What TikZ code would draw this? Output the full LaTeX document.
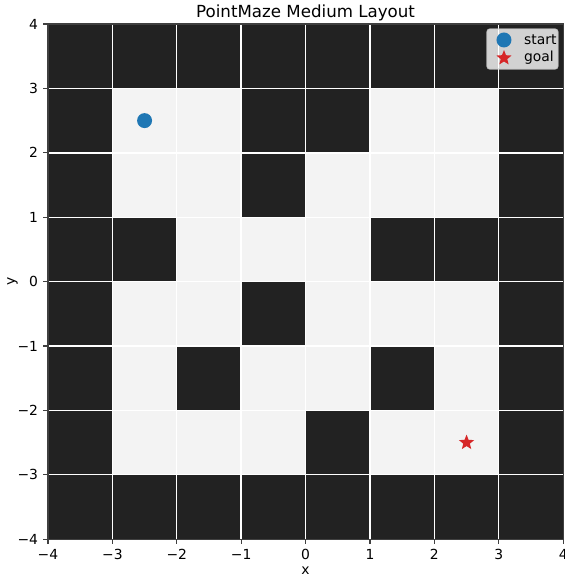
\documentclass[tikz,border=0pt]{standalone}
\usepackage{fontspec}
\setmainfont{DejaVu Sans}
\usetikzlibrary{shapes.geometric}
\definecolor{wallgray}{HTML}{222222}
\definecolor{freegray}{HTML}{F3F3F3}
\definecolor{startblue}{HTML}{1F77B4}
\definecolor{goalred}{HTML}{D62728}

\begin{document}
\begin{tikzpicture}[
    x=46.4pt, y=46.4pt,
    every node/.style={font=\fontsize{10}{12}\selectfont},
    wall/.style={fill=wallgray},
    free/.style={fill=freegray},
    gridline/.style={white, line width=1pt},
    spine/.style={black!75, line width=0.8pt},
    tickmark/.style={black!75, line width=0.8pt},
    startdot/.style={circle, fill=startblue, inner sep=0pt, minimum size=10.8pt},
    goalstar/.style={star, star points=5, star point ratio=2.3, fill=goalred,
                     inner sep=0pt, minimum size=11.5pt},
    legendbox/.style={draw=black!20, fill=white, fill opacity=0.8, draw opacity=0.8,
                      rounded corners=2pt, line width=0.8pt}
]
\useasboundingbox (-4.745,-4.618) rectangle (4.016,4.373);

% maze cells, top row first
\foreach \row [count=\r from 0] in {
    {1,1,1,1,1,1,1,1},
    {1,0,0,1,1,0,0,1},
    {1,0,0,1,0,0,0,1},
    {1,1,0,0,0,1,1,1},
    {1,0,0,1,0,0,0,1},
    {1,0,1,0,0,1,0,1},
    {1,0,0,0,1,0,0,1},
    {1,1,1,1,1,1,1,1}} {
  \foreach \c [count=\k from 0] in \row {
    \ifnum\c=1
      \fill[wall] (-4+\k,3-\r) rectangle ++(1,1);
    \else
      \fill[free] (-4+\k,3-\r) rectangle ++(1,1);
    \fi
  }
}

% grid lines at every integer
\foreach \g in {-3,...,3} {
  \draw[gridline] (\g,-4) -- (\g,4);
  \draw[gridline] (-4,\g) -- (4,\g);
}
\draw[spine] (-4,-4) rectangle (4,4);

% ticks and tick labels
\foreach \v/\t in {-4/−4,-3/−3,-2/−2,-1/−1,0/0,1/1,2/2,3/3,4/4} {
  \draw[tickmark] (\v,-4) -- ++(0,-3.5pt);
  \node[anchor=north, inner sep=0pt] (xt\t) at ([yshift=-7pt]\v,-4) {\t};
  \draw[tickmark] (-4,\v) -- ++(-3.5pt,0);
  \node[anchor=east, inner sep=0pt] (yt\t) at ([xshift=-7pt]-4,\v) {\t};
}

\node (xlab) at (0,-4.49) {x};
\node[rotate=90] (ylab) at (-4.55,0) {y};
\node[font=\fontsize{12}{14}\selectfont] (title) at (0,4.18) {PointMaze Medium Layout};

% start and goal
\node[startdot] (start) at (-2.5,2.5) {};
\node[goalstar] (goal) at (2.5,-2.5) {};

% legend
\draw[legendbox] (2.817,3.301) rectangle (3.919,3.922);
\node[startdot] (legstart) at (3.081,3.752) {};
\node[goalstar] (leggoal) at (3.081,3.472) {};
\node[anchor=west, inner sep=0pt] (legstarttxt) at (3.39,3.752) {start};
\node[anchor=west, inner sep=0pt] (leggoaltxt) at (3.39,3.472) {goal};
\end{tikzpicture}
\end{document}
